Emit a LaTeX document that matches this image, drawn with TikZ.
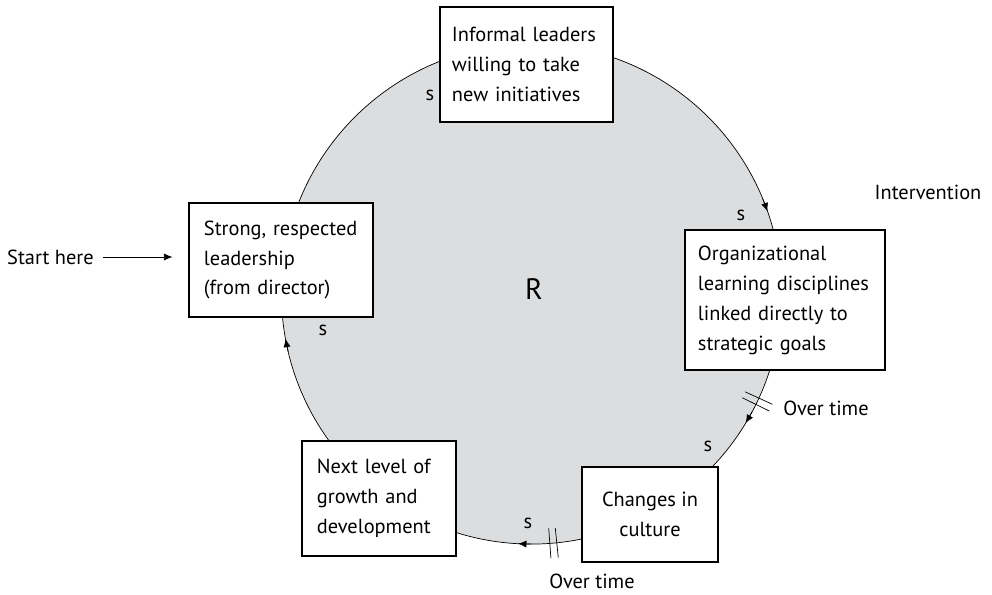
\documentclass[tikz,border=0pt]{standalone}
\usepackage{fontspec}
\setmainfont{PT Sans}
\usepackage{tikz}
\usetikzlibrary{arrows.meta,calc}
\definecolor{loopgray}{RGB}{220,221,223}

\begin{document}
\begin{tikzpicture}[x=0.025cm,y=0.025cm,font=\fontsize{14.5}{21.3}\selectfont,
    box/.style={draw,fill=white,line width=0.8pt,inner xsep=0.375cm,inner ysep=0pt,align=left},
    tip/.style={-{Latex[length=6pt,width=5pt]}}]
    \useasboundingbox (0,0) rectangle (992,-594);
    \coordinate (c) at (531.5,-294);
    \draw[line width=0.5pt,fill=loopgray] (c) circle[radius=6.25cm];
    \foreach \a in {19.3,-31.1,-93.1,190.3}
        \draw[tip,line width=0.5pt] ($(c)+(\a+3:250)$) arc[start angle=\a+3,end angle=\a,radius=6.25cm];
    \node[font=\fontsize{21}{25}\selectfont] (r) at (534,-289) {R};
    \foreach \a in {-25.4,-85} {
        \draw[line width=0.5pt] ($(c)+(\a+0.8:235)$) -- ($(c)+(\a+0.8:265)$);
        \draw[line width=0.5pt] ($(c)+(\a-0.8:235)$) -- ($(c)+(\a-0.8:265)$);
    }
    \node[box,inner xsep=0.3cm,text width=3.725cm,minimum height=2.875cm] (informal) at (526.5,-64.5) {Informal leaders\\willing to take\\new initiatives};
    \node[box,text width=3.85cm,minimum height=2.85cm] (lead) at (281,-260) {Strong, respected\\leadership\\(from director)};
    \node[box,inner xsep=0.325cm,text width=4.35cm,minimum height=3.5cm] (learn) at (785,-300) {Organizational\\learning disciplines\\linked directly to\\strategic goals};
    \node[box,align=center,minimum width=3.4cm,minimum height=2.375cm] (culture) at (650,-514.5) {Changes in\\culture};
    \node[box,text width=3.1cm,minimum height=2.875cm] (growth) at (379,-498.5) {Next level of\\growth and\\development};
    \foreach \x/\y [count=\i] in {430/95,741/215,708/446,528/523,323/330}
        \node (s\i) at (\x,-\y) {s};
    \node (start) at (50.5,-257) {Start here};
    \draw[tip,shorten <=0.1cm,shorten >=0.4cm] (start.east) -- (start.east -| lead.west);
    \node (interv) at (928,-192) {Intervention};
    \node (time1) at (826,-408) {Over time};
    \node (time2) at (592,-581) {Over time};
\end{tikzpicture}
\end{document}
